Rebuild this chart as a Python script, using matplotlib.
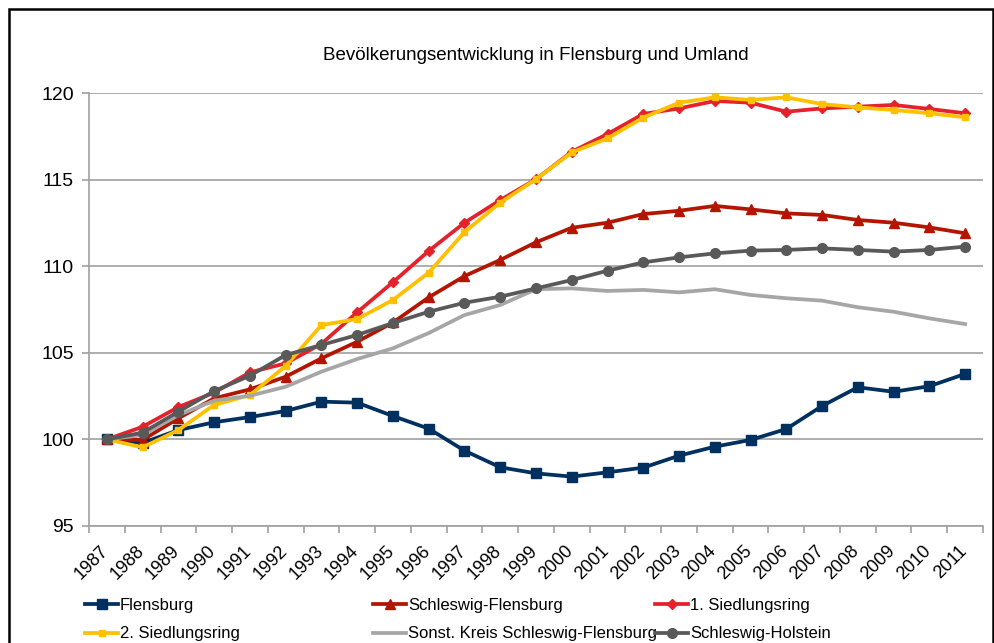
import matplotlib
matplotlib.use("Agg")
import matplotlib.pyplot as plt
import matplotlib.transforms as mtransforms
from matplotlib.patches import Rectangle
from matplotlib.ticker import FixedLocator, NullFormatter

plt.rcParams['font.family'] = ['Liberation Sans', 'DejaVu Sans']

years = [str(y) for y in range(1987, 2012)]

flensburg = [100.0, 99.8, 100.54, 100.99, 101.29, 101.64, 102.18, 102.12, 101.35, 100.62,
             99.35, 98.39, 98.04, 97.85, 98.1, 98.37, 99.06, 99.58, 99.97, 100.6,
             101.93, 103.01, 102.75, 103.07, 103.78]
schleswig_flensburg = [100.0, 99.97, 101.22, 102.37, 102.89, 103.62, 104.68, 105.64, 106.75, 108.2,
                       109.43, 110.36, 111.38, 112.22, 112.51, 113.01, 113.2, 113.48, 113.28, 113.05,
                       112.96, 112.67, 112.51, 112.24, 111.9]
siedlungsring1 = [100.0, 100.73, 101.87, 102.7, 103.87, 104.39, 105.52, 107.34, 109.08, 110.88,
                  112.51, 113.82, 115.02, 116.61, 117.63, 118.79, 119.11, 119.54, 119.44, 118.92,
                  119.11, 119.21, 119.31, 119.08, 118.83]
siedlungsring2 = [100.0, 99.54, 100.54, 101.99, 102.56, 104.24, 106.6, 106.95, 108.05, 109.63,
                  111.97, 113.67, 115.02, 116.57, 117.38, 118.58, 119.44, 119.75, 119.6, 119.75,
                  119.36, 119.17, 119.02, 118.83, 118.6]
sonst_kreis = [100.0, 100.25, 101.4, 102.24, 102.52, 103.04, 103.91, 104.64, 105.26, 106.14,
               107.18, 107.76, 108.67, 108.72, 108.57, 108.63, 108.49, 108.67, 108.34, 108.15,
               108.01, 107.63, 107.37, 106.99, 106.66]
schleswig_holstein = [100.0, 100.39, 101.6, 102.79, 103.68, 104.87, 105.45, 106.03, 106.72, 107.37,
                      107.89, 108.24, 108.72, 109.2, 109.74, 110.22, 110.51, 110.74, 110.9, 110.94,
                      111.03, 110.94, 110.84, 110.94, 111.13]

series_names = ["Flensburg", "Schleswig-Flensburg", "1. Siedlungsring",
                "2. Siedlungsring", "Sonst. Kreis Schleswig-Flensburg", "Schleswig-Holstein"]
series_values = [flensburg, schleswig_flensburg, siedlungsring1,
                 siedlungsring2, sonst_kreis, schleswig_holstein]
colors = ['#00305F', '#B31500', '#E5212B', '#FFC000', '#A6A6A6', '#595959']
markers = ['s', '^', 'D', 's', None, 'o']
msizes = [7, 7.5, 5.5, 4.5, 0, 7]

fig = plt.figure(figsize=(9.95, 6.43), dpi=100)
ax = fig.add_axes([89/995, 1-526/643, (983-89)/995, (526-93)/643])

x = list(range(len(years)))
handles = []
for name, vals, c, m, ms in zip(series_names, series_values, colors, markers, msizes):
    h, = ax.plot(x, vals, color=c, lw=2.7, marker=m, markersize=ms,
                 markeredgecolor=c, markerfacecolor=c, label=name, solid_joinstyle='round')
    handles.append(h)

ax.set_xlim(-0.5, len(years) - 0.5)
ax.set_ylim(95, 120)
ax.set_yticks([95, 100, 105, 110, 115, 120])
ax.yaxis.grid(True, color='#A0A0A0', lw=1.2)
ax.set_axisbelow(True)

ax.set_xticks(x)
ax.set_xticklabels(years, rotation=45, ha='right', va='top', fontsize=13)
ax.xaxis.set_minor_locator(FixedLocator([i - 0.5 for i in range(len(years) + 1)]))
ax.xaxis.set_minor_formatter(NullFormatter())
ax.tick_params(axis='x', which='major', length=0, pad=12)
ax.tick_params(axis='x', which='minor', length=5, color='#A0A0A0', width=1.2)
ax.tick_params(axis='y', length=5, color='#A0A0A0', width=1.2, labelsize=14, pad=6)
offset = mtransforms.ScaledTranslation(5/100, 0, fig.dpi_scale_trans)
for lbl in ax.get_xticklabels():
    lbl.set_transform(lbl.get_transform() + offset)

for s in ['top', 'right']:
    ax.spines[s].set_visible(False)
for s in ['left', 'bottom']:
    ax.spines[s].set_color('#A0A0A0')
    ax.spines[s].set_linewidth(1.2)

fig.text(536/995, 1-55/643, "Bevölkerungsentwicklung in Flensburg und Umland",
         ha='center', va='center', fontsize=13.5)

col_x = [85/995, 373/995, 655/995]
for ci in range(3):
    hs = [handles[ci], handles[ci + 3]]
    fig.legend(handles=hs, labels=[h.get_label() for h in hs], loc='upper left',
               bbox_to_anchor=(col_x[ci], 1-598/643), frameon=False, fontsize=12,
               handlelength=2.0, handletextpad=0.1, labelspacing=0.8, numpoints=1,
               borderaxespad=0, borderpad=0)

fig.patches.append(Rectangle((9/995, -0.05), (993-9)/995, 1.05-9/643,
                             transform=fig.transFigure, fill=False,
                             edgecolor='black', lw=1.8))

fig.savefig("out.png", dpi=100)
